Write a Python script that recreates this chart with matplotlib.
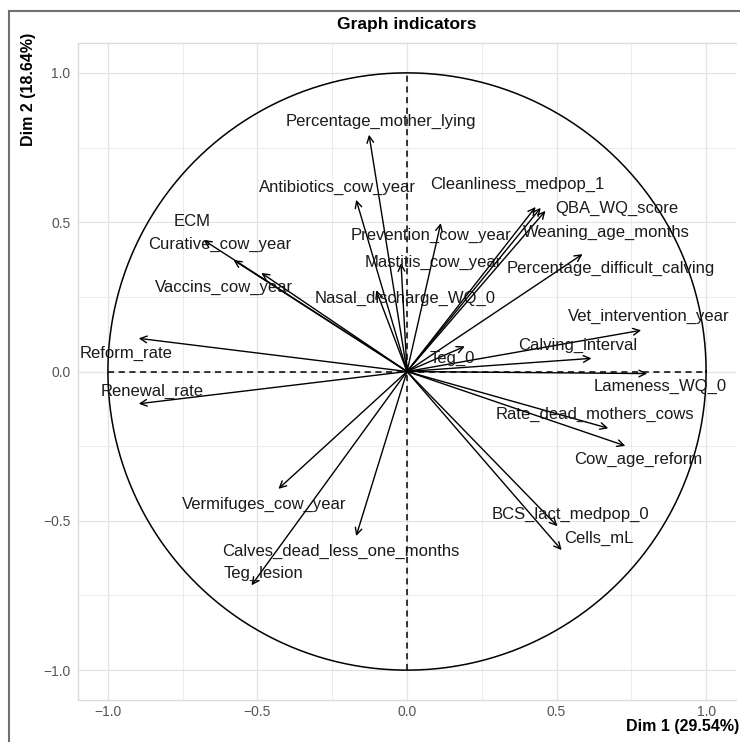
import numpy as np
import matplotlib
matplotlib.use("Agg")
from matplotlib import pyplot as plt
from matplotlib.lines import Line2D

plt.rcParams['font.family'] = ['Liberation Sans', 'DejaVu Sans']

# variable names and their coordinates on Dim 1 / Dim 2
variables = ['Percentage_mother_lying', 'Antibiotics_cow_year', 'ECM', 'Curative_cow_year',
             'Vaccins_cow_year', 'Nasal_discharge_WQ_0', 'Mastitis_cow_year', 'Prevention_cow_year',
             'Reform_rate', 'Cleanliness_medpop_1', 'QBA_WQ_score', 'Weaning_age_months',
             'Percentage_difficult_calving', 'Vet_intervention_year', 'Calving_interval', 'Teg_0',
             'Lameness_WQ_0', 'Rate_dead_mothers_cows', 'Cow_age_reform', 'BCS_lact_medpop_0',
             'Cells_mL', 'Renewal_rate', 'Vermifuges_cow_year', 'Calves_dead_less_one_months',
             'Teg_lesion']
dim1 = [-0.127, -0.170, -0.680, -0.580, -0.487, -0.103, -0.020, 0.113,
        -0.897, 0.430, 0.463, 0.447, 0.587, 0.783, 0.617, 0.193,
        0.803, 0.673, 0.730, 0.503, 0.517, -0.897, -0.430, -0.170, -0.520]
dim2 = [0.793, 0.575, 0.440, 0.373, 0.330, 0.272, 0.363, 0.497,
        0.111, 0.551, 0.538, 0.548, 0.393, 0.138, 0.044, 0.084,
        -0.007, -0.190, -0.249, -0.518, -0.598, -0.108, -0.393, -0.551, -0.716]

# label placement (data units)
label_x = [-0.087, -0.233, -0.720, -0.627, -0.613, -0.007, 0.087, 0.080,
           -0.940, 0.367, 0.700, 0.667, 0.680, 0.807, 0.570, 0.150,
           0.847, 0.627, 0.773, 0.547, 0.640, -0.853, -0.477, -0.220, -0.480]
label_y = [0.837, 0.615, 0.501, 0.424, 0.282, 0.245, 0.366, 0.457,
           0.060, 0.625, 0.545, 0.467, 0.346, 0.185, 0.087, 0.044,
           -0.050, -0.145, -0.296, -0.477, -0.558, -0.067, -0.444, -0.602, -0.676]

ticks = [-1.0, -0.5, 0.0, 0.5, 1.0]
tick_labels = ['\u22121.0', '\u22120.5', '0.0', '0.5', '1.0']

fig = plt.figure(figsize=(7.4, 7.42), dpi=100)
ax = fig.add_axes([78/740, 1 - 700/742, 658/740, 657/742])

ax.set_xlim(-1.1, 1.1)
ax.set_ylim(-1.1, 1.1)

# grid
ax.set_xticks(ticks)
ax.set_yticks(ticks)
ax.set_xticks([-0.75, -0.25, 0.25, 0.75], minor=True)
ax.set_yticks([-0.75, -0.25, 0.25, 0.75], minor=True)
ax.grid(which='major', color='#e4e4e4', lw=0.9)
ax.grid(which='minor', color='#ececec', lw=0.7)
ax.set_axisbelow(True)
for s in ax.spines.values():
    s.set_color('#dcdcdc')
    s.set_linewidth(1.0)
ax.spines['right'].set_visible(False)
ax.tick_params(which='both', length=0, colors='#555555', labelsize=10)
ax.tick_params(axis='x', pad=3.5)
ax.tick_params(axis='y', pad=5.5)
ax.set_xticklabels(tick_labels)
ax.set_yticklabels(tick_labels)

# correlation circle and axes
t = np.linspace(0, 2 * np.pi, 400)
ax.plot(np.cos(t), np.sin(t), color='black', lw=1.1)
ax.plot([-1, 1], [0, 0], color='black', lw=1.1, ls=(0, (4, 3)))
ax.plot([0, 0], [-1, 1], color='black', lw=1.1, ls=(0, (4, 3)))

for name, x, y, lx, ly in zip(variables, dim1, dim2, label_x, label_y):
    ax.annotate('', xy=(x, y), xytext=(0, 0),
                arrowprops=dict(arrowstyle='->', color='black', lw=1.0,
                                shrinkA=0, shrinkB=0, mutation_scale=12))
    ax.text(lx, ly, name, ha='center', va='center', fontsize=12, color='#1a1a1a')

fig.text(407/740, 1 - 25/742, 'Graph indicators', ha='center', va='center',
         fontsize=12.5, fontweight='bold')
fig.text(739/740, 1 - 727/742, 'Dim 1 (29.54%)', ha='right', va='center',
         fontsize=11.5, fontweight='bold')
fig.text(29/740, 1 - 33/742, 'Dim 2 (18.64%)', ha='center', va='top', rotation=90,
         fontsize=11.5, fontweight='bold')

# outer frame (left and top edges visible)
fig.add_artist(Line2D([9/740, 9/740], [0, 1 - 11/742], transform=fig.transFigure,
                      color='#707070', lw=1.5))
fig.add_artist(Line2D([9/740, 1], [1 - 11/742, 1 - 11/742], transform=fig.transFigure,
                      color='#707070', lw=1.5))

fig.savefig('out.png', dpi=100)
